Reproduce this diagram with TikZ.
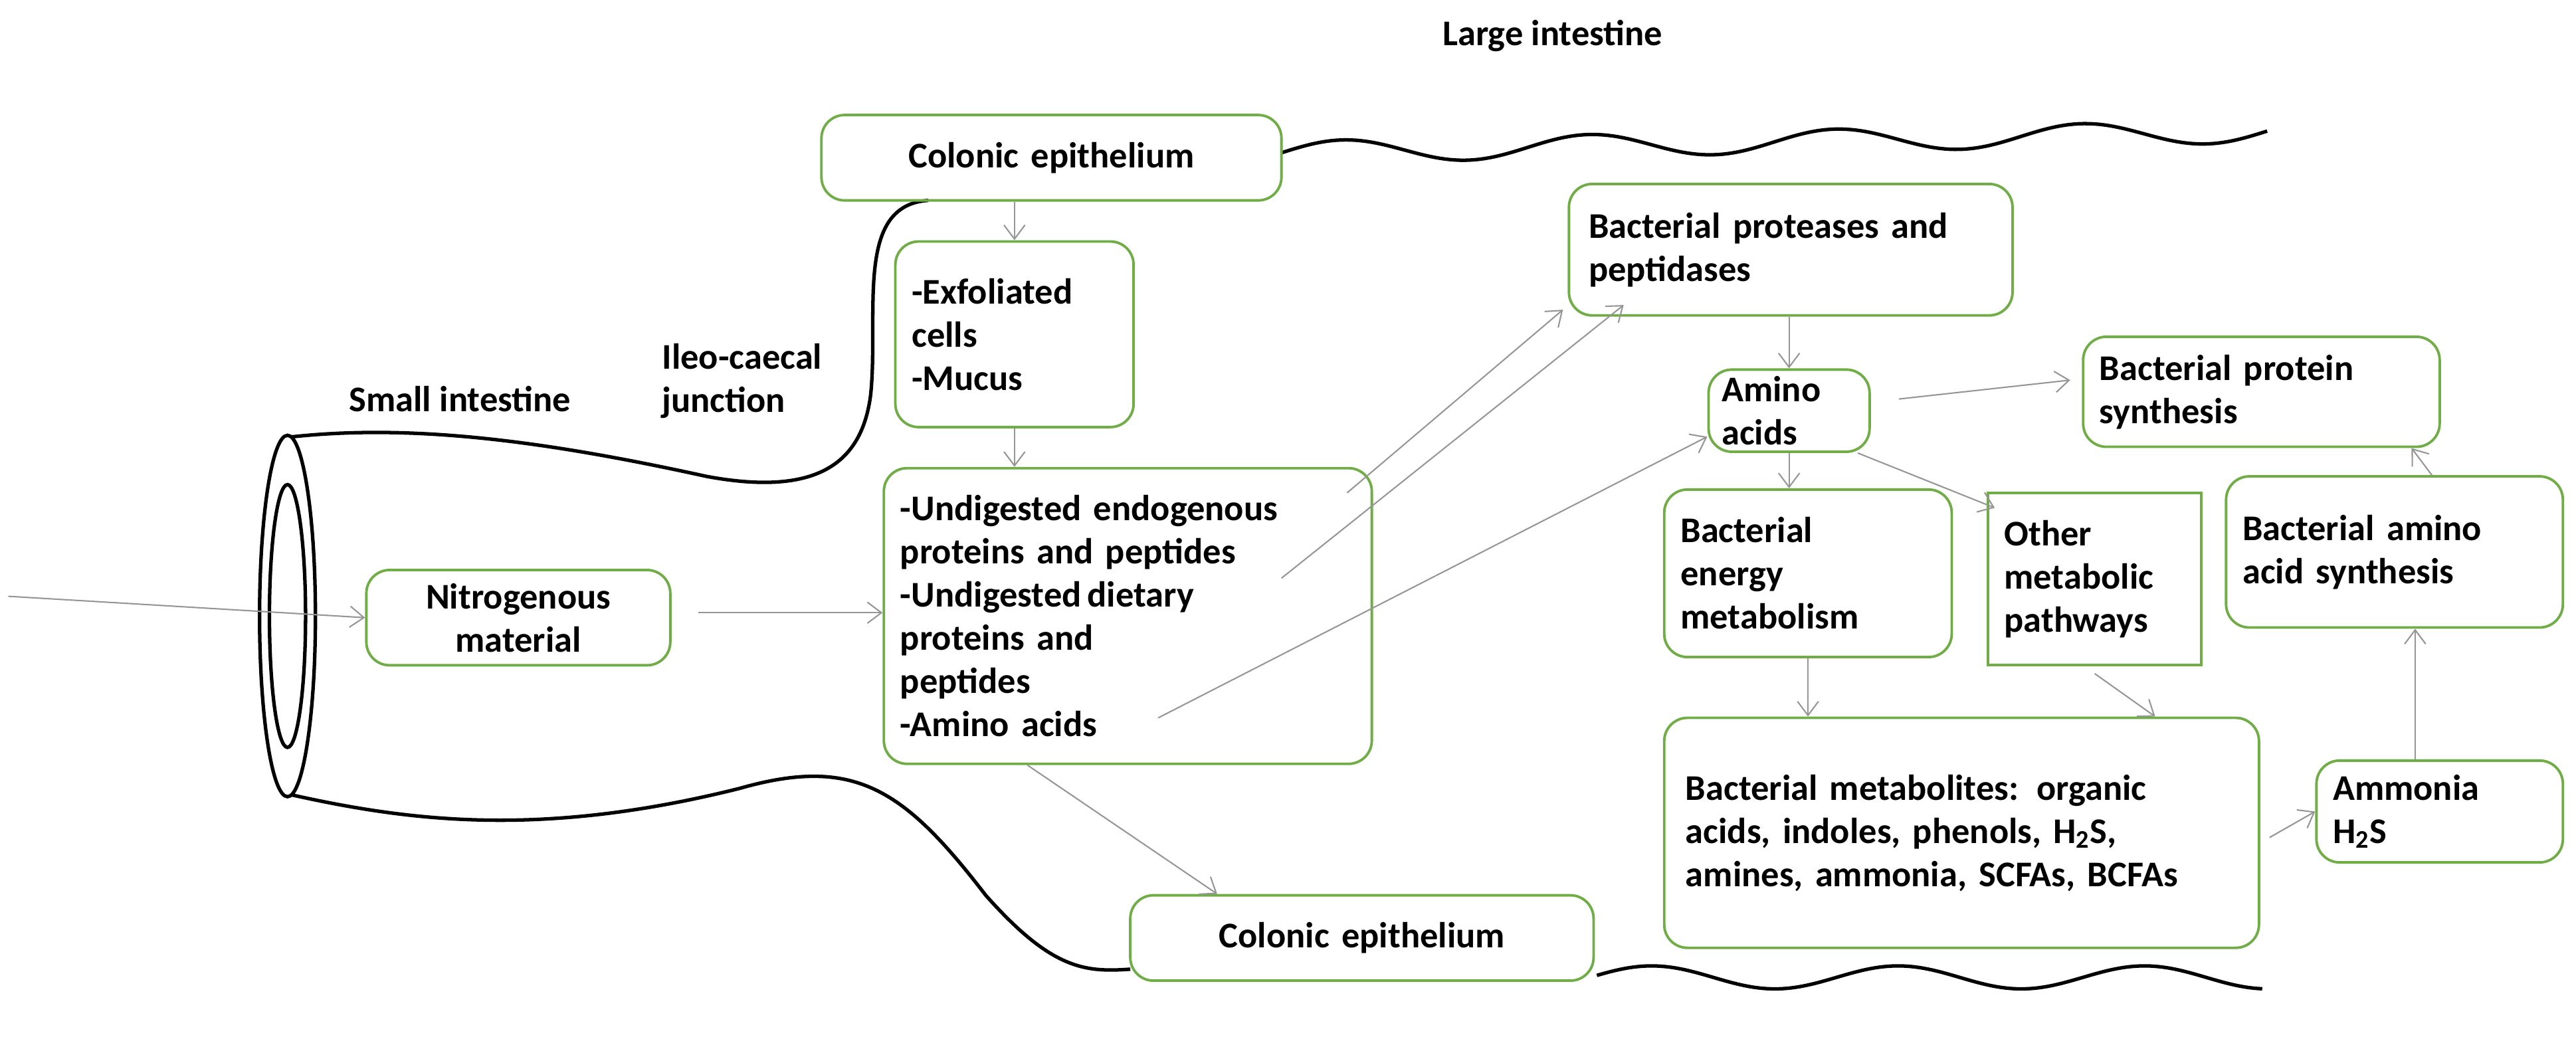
\documentclass[tikz,border=0pt]{standalone}
\usepackage{fontspec}
\setmainfont{Carlito}
\usetikzlibrary{arrows.meta}
\newcommand\jl[1]{\makebox[\linewidth][s]{#1}}
\begin{document}
\begin{tikzpicture}[x=0.02473cm,y=-0.02473cm,
  box/.style={draw={rgb,255:red,112;green,173;blue,71}, line width=1.1pt, rounded corners=0.35cm, font=\bfseries\fontsize{15.5}{18.5}\selectfont, inner sep=0pt},
  sq/.style={box, rounded corners=0pt},
  arr/.style={draw={rgb,255:red,150;green,150;blue,150}, line width=0.6pt, -{Straight Barb[length=6pt,width=9pt]}},
  tube/.style={line width=1.5pt, black},
  lab/.style={font=\bfseries\fontsize{15.5}{18.5}\selectfont, align=left}]
\useasboundingbox (0,0) rectangle (1568,638.6);
\newcommand\bx[8]{%
  \pgfmathsetmacro\bw{(#4-#2)*0.02473}%
  \pgfmathsetmacro\bh{(#5-#3)*0.02473}%
  \pgfmathsetmacro\tw{(#4-#2-#6)*0.02473}%
  \node[#7, minimum width=\bw cm, minimum height=\bh cm, text width=\tw cm] (#1) at ({(#2+#4)/2},{(#3+#5)/2}) {#8};}
% tube
\draw[tube] (175,375) ellipse [x radius=17, y radius=110];
\draw[tube] (175,375) ellipse [x radius=11, y radius=80];
\draw[tube] (177,266) .. controls (250,258) and (330,268) .. (430,290) .. controls (500,303) and (525,280) .. (530,240) .. controls (535,190) and (520,125) .. (565,122);
\draw[tube] (178,484) .. controls (250,500) and (330,510) .. (450,480) .. controls (520,460) and (550,480) .. (600,545) .. controls (640,590) and (660,592) .. (688,590);
% waves
\draw[tube] plot[domain=0:600,samples=200] ({780+\x},{93-\x*0.022-7*sin(\x*2.4)});
\draw[tube] plot[domain=0:405,samples=150] ({972+\x},{595-7*sin(\x*2.4+10)});
% labels
\node[lab] (li) at (945,22) {Large intestine};
\node[lab] (si) at (280,243) {Small intestine};
\node[lab, anchor=west] (ic) at (398,232) {Ileo-caecal\\junction};
% boxes
\bx{ct}{500}{70}{780}{122}{10}{box, align=center}{Colonic epithelium}
\bx{ex}{545}{147}{690}{260}{20}{box, align=left}{-Exfoliated\\cells\\-Mucus}
\bx{un}{538}{285}{835}{465}{20}{box, align=left}{-Undigested endogenous\\proteins and peptides\\-Undigested\,dietary\\proteins and\\peptides\\-Amino acids}
\bx{ni}{223}{347}{408}{405}{10}{box, align=center}{Nitrogenous\\material}
\bx{bp}{955}{112}{1225}{192}{24}{box, align=left}{\jl{Bacterial proteases and}\\peptidases}
\bx{aa}{1040}{225}{1138}{275}{16}{box, align=left}{Amino\\acids}
\bx{ps}{1268}{205}{1485}{272}{20}{box, align=left}{Bacterial protein\\synthesis}
\bx{em}{1013}{298}{1188}{400}{20}{box, align=left}{Bacterial\\energy\\metabolism}
\bx{om}{1210}{300}{1340}{405}{20}{sq, align=left}{Other\\metabolic\\pathways}
\bx{as}{1355}{290}{1560}{382}{20}{box, align=left}{\jl{Bacterial amino}\\acid synthesis}
\bx{bm}{1013}{437}{1375}{577}{26}{box, align=left}{\jl{Bacterial metabolites: organic}\\\jl{acids, indoles, phenols, H\textsubscript{2}S,}\\\jl{amines, ammonia, SCFAs, BCFAs}}
\bx{am}{1410}{463}{1560}{525}{20}{box, align=left}{Ammonia\\H\textsubscript{2}S}
\bx{cb}{688}{545}{970}{597}{10}{box, align=center}{Colonic epithelium}
% arrows
\coordinate (s0) at (5,363);
\coordinate (n1) at (425,373);
\coordinate (u1) at (820,300);
\coordinate (u2) at (780,352);
\coordinate (u3) at (705,437);
\draw[arr] (s0) -- (ni.west);
\draw[arr] (n1) -- (un.west |- n1);
\draw[arr] (ct.south -| ex.north) -- (ex.north);
\draw[arr] (ex.south) -- (un.north -| ex.south);
\draw[arr] (u1) -- ([xshift=-2pt,yshift=3pt]bp.south west);
\draw[arr] (u2) -- ([xshift=24pt,yshift=5pt]bp.south west);
\draw[arr] (u3) -- ([yshift=7pt]aa.south west);
\draw[arr] ([xshift=-43pt]un.south) -- ([xshift=-62pt]cb.north);
\draw[arr] (bp.south -| aa.north) -- (aa.north);
\draw[arr] ([xshift=12pt,yshift=5pt]aa.east) -- ([xshift=-5pt,yshift=5pt]ps.west);
\draw[arr] (aa.south) -- (em.north -| aa.south);
\draw[arr] ([xshift=-5.6pt]aa.south east) -- ([xshift=3.5pt,yshift=-7pt]om.north west);
\draw[arr] (em.south) -- (bm.north -| em.south);
\draw[arr] ([yshift=-3pt]om.south) -- ([xshift=-45pt]bm.north east);
\draw[arr] ([xshift=4pt,yshift=-2pt]bm.east) -- (am.west);
\draw[arr] ([xshift=-10.5pt]am.north) -- ([xshift=-10.5pt]as.south -| am.north);
\draw[arr] ([xshift=16pt]as.north) -- ([xshift=-12.6pt]ps.south east);
\end{tikzpicture}
\end{document}
